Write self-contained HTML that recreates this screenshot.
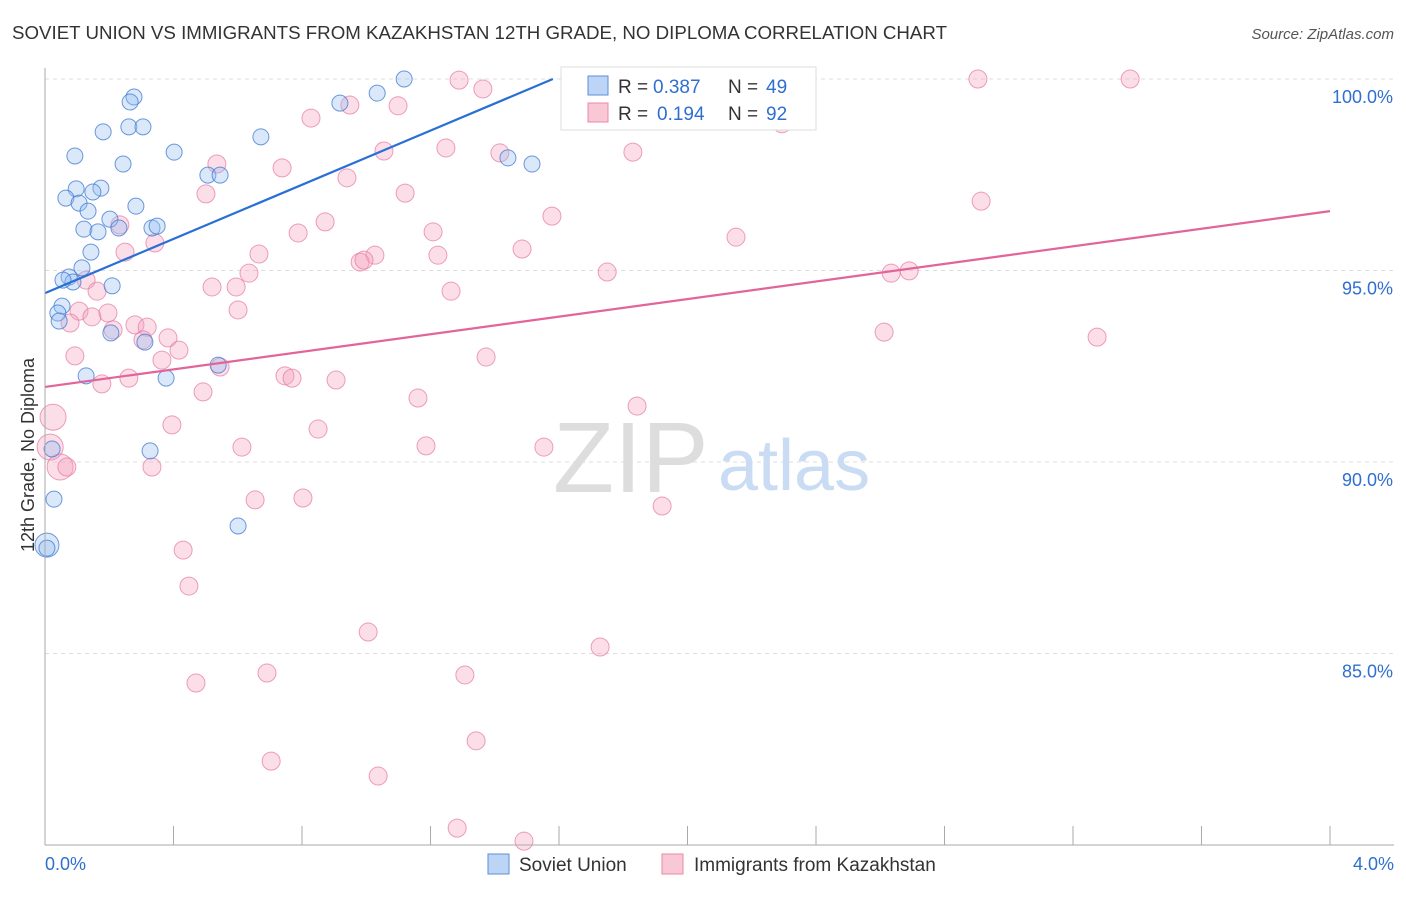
<!DOCTYPE html>
<html><head><meta charset="utf-8"><style>
body{margin:0;background:#fff;font-family:"Liberation Sans",sans-serif}
svg text{font-family:"Liberation Sans",sans-serif}
</style></head><body>
<svg id="c" width="1406" height="892">
<text x="12" y="39" font-size="18" fill="#333" textLength="935" lengthAdjust="spacingAndGlyphs">SOVIET UNION VS IMMIGRANTS FROM KAZAKHSTAN 12TH GRADE, NO DIPLOMA CORRELATION CHART</text>
<text x="1394" y="39" font-size="15" fill="#555" font-style="italic" text-anchor="end">Source: ZipAtlas.com</text>
<g id="grid"></g>
<g><text x="553" y="492" font-size="100" font-family="Liberation Serif,serif" fill="#ddd">ZIP</text><text x="718" y="490" font-size="72" fill="#c9dcf3">atlas</text></g>
<g id="pts"></g>
<g id="axes"></g>
<text transform="translate(34,455) rotate(-90)" font-size="18" fill="#333" text-anchor="middle">12th Grade, No Diploma</text>
<g>
<rect x="561" y="67" width="255" height="63" fill="#fff" stroke="#ddd"/>
<rect x="588" y="76" width="20" height="19" fill="#bcd4f5" stroke="#5b8fd8"/>
<rect x="588" y="103" width="20" height="19" fill="#f9c8d6" stroke="#e889a8"/>
<text x="618" y="93" font-size="19" fill="#333">R =</text><text x="653" y="93" font-size="19" fill="#2f6fd0">0.387</text>
<text x="728" y="93" font-size="19" fill="#333">N =</text><text x="766" y="93" font-size="19" fill="#2f6fd0">49</text>
<text x="618" y="120" font-size="19" fill="#333">R =</text><text x="657" y="120" font-size="19" fill="#2f6fd0">0.194</text>
<text x="728" y="120" font-size="19" fill="#333">N =</text><text x="766" y="120" font-size="19" fill="#2f6fd0">92</text>
</g>
<g>
<rect x="488" y="854" width="21" height="20" fill="#bcd4f5" stroke="#5b8fd8"/>
<text x="519" y="871" font-size="19" fill="#333">Soviet Union</text>
<rect x="662" y="854" width="21" height="20" fill="#f9c8d6" stroke="#e889a8"/>
<text x="694" y="871" font-size="19" fill="#333">Immigrants from Kazakhstan</text>
</g>
</svg>
<script>
const yTicks=[100,95,90,85];
const xTickLabels=["0.0%","4.0%"];
const blueX=[1.118,1.034,.277,.265,.918,.261,.305,.181,.672,.402,.093,1.441,1.516,.243,.507,.545,.097,.174,.149,.065,.106,.134,.283,.202,.230,.121,.165,.333,.349,.143,.115,.075,.087,.056,.209,.053,.040,.044,.205,.311,.539,.128,.377,.327,.022,.028,.601,.006,.006];
const blueY=[100,99.63,99.53,99.40,99.37,98.75,98.75,98.62,98.49,98.09,97.99,97.94,97.78,97.78,97.49,97.49,97.13,97.15,97.05,96.89,96.76,96.55,96.68,96.34,96.11,96.08,96.01,96.11,96.16,95.48,95.07,94.83,94.70,94.75,94.60,94.07,93.89,93.68,93.37,93.13,92.53,92.25,92.19,90.29,90.34,89.03,88.33,87.83,87.75];
const pinkX=[1.289,2.904,3.378,1.363,1.099,.949,.828,2.294,1.248,1.055,1.416,1.830,.535,.738,.940,1.121,.501,1.578,.872,2.914,.233,1.208,.788,2.151,.342,.249,1.485,.666,1.223,1.027,.981,.993,.635,1.750,2.634,2.690,.128,.520,.595,1.264,.162,.601,.106,.146,.196,.078,.280,.318,2.612,3.275,.212,.383,.305,.417,.093,.364,1.373,.545,.747,.769,.906,.261,.177,.492,1.161,1.843,.395,.850,.613,1.186,1.553,.025,.016,.047,.068,.333,.654,.803,1.921,.430,.448,1.006,1.728,.470,.691,1.307,.704,1.342,1.037,1.283,1.491];
const pinkY=[99.97,100,100,99.74,99.30,99.32,98.98,98.83,98.20,98.12,98.07,98.09,97.78,97.68,97.42,97.02,97.00,96.42,96.27,96.81,96.19,96.01,95.98,95.87,95.72,95.48,95.56,95.43,95.40,95.40,95.22,95.27,94.93,94.96,94.93,94.99,94.75,94.57,94.57,94.46,94.46,93.97,93.94,93.79,93.89,93.63,93.58,93.52,93.39,93.26,93.45,93.24,93.19,92.92,92.77,92.66,92.74,92.48,92.25,92.19,92.14,92.19,92.04,91.83,91.67,91.46,90.97,90.86,90.39,90.42,90.39,91.17,90.39,89.87,89.87,89.87,89.01,89.06,88.85,87.70,86.76,85.56,85.17,84.23,84.49,84.44,82.19,82.72,81.80,80.44,80.10];
const bigPinkIdx=[71,72,73];
const bigBlueIdx=[47];
const blueTrend=[94.41,100.0];const blueTrendX=[0,1.581];
const pinkTrend=[91.96,96.55];const pinkTrendX=[0,4];
const NS="http://www.w3.org/2000/svg";
const X=v=>45+v/4*1285, Y=v=>845-(v-80)/20*766;
function mk(t,a,p){const e=document.createElementNS(NS,t);for(const k in a)e.setAttribute(k,a[k]);p.appendChild(e);return e;}
const grid=document.getElementById('grid'),axes=document.getElementById('axes'),pts=document.getElementById('pts');
yTicks.forEach(t=>{
 const l=mk('line',{x1:45,x2:1394,y1:Y(t),y2:Y(t),stroke:'#ddd','stroke-dasharray':'4,4'},grid);
 
 
 const tx=mk('text',{x:1393,y:Y(t)+24,'font-size':18,fill:'#2f6fd0','text-anchor':'end'},axes);
 tx.textContent=t.toFixed(1)+'%';
 
 
});
mk('line',{x1:45,x2:45,y1:68,y2:845,stroke:'#aaa'},axes);
mk('line',{x1:45,x2:1394,y1:845,y2:845,stroke:'#aaa'},axes);
for(let i=0;i<=10;i++){mk('line',{x1:X(i*0.4),x2:X(i*0.4),y1:826,y2:845,stroke:'#aaa'},axes);}
xTickLabels.forEach((s,i)=>{
 const tx=mk('text',{x:i?1394:45,y:870,'font-size':18,fill:'#2f6fd0','text-anchor':i?'end':'start'},axes);
 tx.textContent=s;
 
 
});
pinkX.forEach((v,i)=>{
 const c=mk('circle',{cx:X(v),cy:Y(pinkY[i]),r:bigPinkIdx.includes(i)?13:9,fill:'rgba(244,160,190,0.35)',stroke:'rgba(230,120,160,0.7)'},pts);
 
 
});
blueX.forEach((v,i)=>{
 const c=mk('circle',{cx:X(v),cy:Y(blueY[i]),r:bigBlueIdx.includes(i)?12:8,fill:'rgba(150,190,240,0.35)',stroke:'rgba(60,120,210,0.75)'},pts);
 
 
});
const bl=mk('line',{x1:X(blueTrendX[0]),y1:Y(blueTrend[0]),x2:X(blueTrendX[1]),y2:Y(blueTrend[1]),stroke:'#2a6fd6','stroke-width':2.2},pts);


const pl=mk('line',{x1:X(pinkTrendX[0]),y1:Y(pinkTrend[0]),x2:X(pinkTrendX[1]),y2:Y(pinkTrend[1]),stroke:'#e2649a','stroke-width':2.2},pts);


</script>
</body></html>
